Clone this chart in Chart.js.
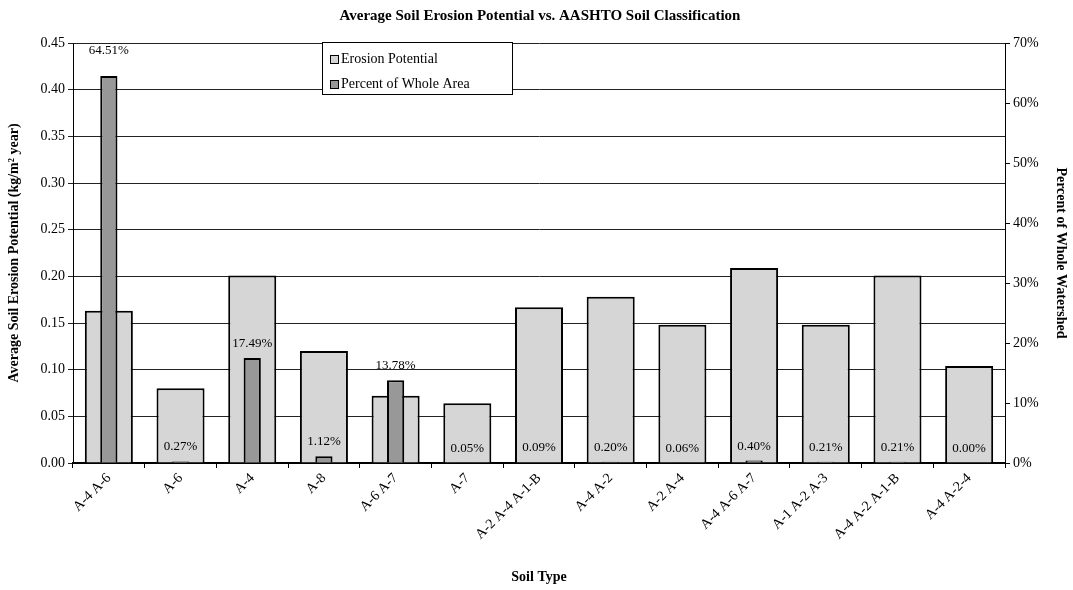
<!DOCTYPE html>
<html>
<head>
<meta charset="utf-8">
<script src="https://cdn.jsdelivr.net/npm/chart.js@4.4.1/dist/chart.umd.min.js"></script>
<style>
  html, body { margin: 0; padding: 0; background: #fff; }
  #wrap { width: 1073px; height: 590px; }
</style>
</head>
<body>
<div id="wrap"><canvas id="chart" width="1073" height="590"></canvas></div>
<script>
const soilTypes = ['A-4 A-6', 'A-6', 'A-4', 'A-8', 'A-6 A-7', 'A-7', 'A-2 A-4 A-1-B', 'A-4 A-2',
                   'A-2 A-4', 'A-4 A-6 A-7', 'A-1 A-2 A-3', 'A-4 A-2 A-1-B', 'A-4 A-2-4'];
const erosionPotential = [0.163, 0.080, 0.201, 0.120, 0.072, 0.064, 0.167, 0.178,
                          0.148, 0.209, 0.148, 0.201, 0.104];
const percentOfArea = [64.51, 0.27, 17.49, 1.12, 13.78, 0.05, 0.09, 0.20,
                       0.06, 0.40, 0.21, 0.21, 0.00];
const leftTicks = { min: 0, max: 0.45, step: 0.05 };
const rightTicks = { min: 0, max: 70, step: 10 };

const SERIF = '"Liberation Serif", "DejaVu Serif", serif';

// title drawn by hand so the plot box can be placed exactly
const titlePlugin = {
    id: 'titleText',
    afterDraw(chart) {
        const ctx = chart.ctx;
        ctx.save();
        ctx.font = 'bold 15px ' + SERIF;
        ctx.fillStyle = '#000';
        ctx.textAlign = 'center';
        ctx.textBaseline = 'middle';
        ctx.fillText('Average Soil Erosion Potential vs. AASHTO Soil Classification', 540, 16);
        ctx.restore();
    }
};

// legend box sitting inside the plot, near the top
const legendBox = {
    id: 'legendBox',
    afterDraw(chart) {
        const ctx = chart.ctx;
        const x = 322, y = 42, w = 190, h = 52;
        ctx.save();
        ctx.fillStyle = '#fff';
        ctx.fillRect(x, y, w, h);
        ctx.strokeStyle = '#000';
        ctx.lineWidth = 1;
        ctx.strokeRect(x + 0.5, y + 0.5, w, h);
        ctx.font = '14px ' + SERIF;
        ctx.textBaseline = 'middle';
        chart.data.datasets.forEach((ds, i) => {
            const ly = y + 17 + i * 25;
            ctx.fillStyle = ds.backgroundColor;
            ctx.fillRect(x + 8, ly - 4, 8, 8);
            ctx.strokeRect(x + 8.5, ly - 3.5, 8, 8);
            ctx.fillStyle = '#000';
            ctx.fillText(ds.label, x + 19, ly);
        });
        ctx.restore();
    }
};

// percent labels above the narrow bars
const percentLabels = {
    id: 'percentLabels',
    afterDatasetsDraw(chart) {
        const ctx = chart.ctx;
        const meta = chart.getDatasetMeta(1);
        ctx.save();
        ctx.font = '13px ' + SERIF;
        ctx.fillStyle = '#000';
        ctx.textAlign = 'center';
        ctx.textBaseline = 'bottom';
        meta.data.forEach((bar, i) => {
            const off = percentOfArea[i] > 50 ? 19 : 8;
            ctx.fillText(percentOfArea[i].toFixed(2) + '%', bar.x, bar.y - off);
        });
        ctx.restore();
    }
};

new Chart(document.getElementById('chart'), {
    type: 'bar',
    data: {
        labels: soilTypes,
        datasets: [
            {
                label: 'Erosion Potential',
                data: erosionPotential,
                yAxisID: 'y',
                backgroundColor: '#d6d6d6',
                borderColor: '#000',
                borderWidth: 2,
                barPercentage: 0.67,
                categoryPercentage: 1,
                grouped: false,
                order: 1
            },
            {
                label: 'Percent of Whole Area',
                data: percentOfArea,
                yAxisID: 'y1',
                backgroundColor: '#989898',
                borderColor: '#000',
                borderWidth: 2,
                barPercentage: 0.24,
                categoryPercentage: 1,
                grouped: false,
                order: 0
            }
        ]
    },
    options: {
        responsive: false,
        animation: false,
        layout: { padding: { top: 43, left: 0, right: 0, bottom: 0 } },
        plugins: {
            legend: { display: false },
            tooltip: { enabled: false }
        },
        scales: {
            x: {
                offset: true,
                grid: { offset: true, drawOnChartArea: false, color: '#000', tickLength: 5 },
                border: { color: '#000', width: 2 },
                ticks: {
                    color: '#000', font: { family: SERIF, size: 14 },
                    maxRotation: 45, minRotation: 45, padding: 2
                },
                title: {
                    display: true, text: 'Soil Type', color: '#000',
                    font: { family: SERIF, size: 14, weight: 'bold' }, padding: { top: 4, bottom: 4 }
                },
                afterFit(scale) { scale.height = 127; }
            },
            y: {
                position: 'left',
                min: leftTicks.min, max: leftTicks.max,
                grid: { color: '#222', tickLength: 5, lineWidth: 1 },
                border: { color: '#000', width: 1 },
                ticks: {
                    stepSize: leftTicks.step, color: '#000',
                    font: { family: SERIF, size: 14 },
                    callback: v => v.toFixed(2)
                },
                title: {
                    display: true, text: 'Average Soil Erosion Potential (kg/m² year)', color: '#000',
                    font: { family: SERIF, size: 14, weight: 'bold' }, padding: { top: 6, bottom: 0 }
                },
                afterFit(scale) { scale.width = 73; }
            },
            y1: {
                position: 'right',
                min: rightTicks.min, max: rightTicks.max,
                grid: { drawOnChartArea: false, color: '#000', tickLength: 5 },
                border: { color: '#000', width: 1 },
                ticks: {
                    stepSize: rightTicks.step, color: '#000',
                    font: { family: SERIF, size: 14 },
                    callback: v => v + '%'
                },
                title: {
                    display: true, text: 'Percent of Whole Watershed', color: '#000',
                    font: { family: SERIF, size: 14, weight: 'bold' }, padding: { top: 4, bottom: 2 }
                },
                afterFit(scale) { scale.width = 68; }
            }
        }
    },
    plugins: [titlePlugin, legendBox, percentLabels]
});
</script>
</body>
</html>
